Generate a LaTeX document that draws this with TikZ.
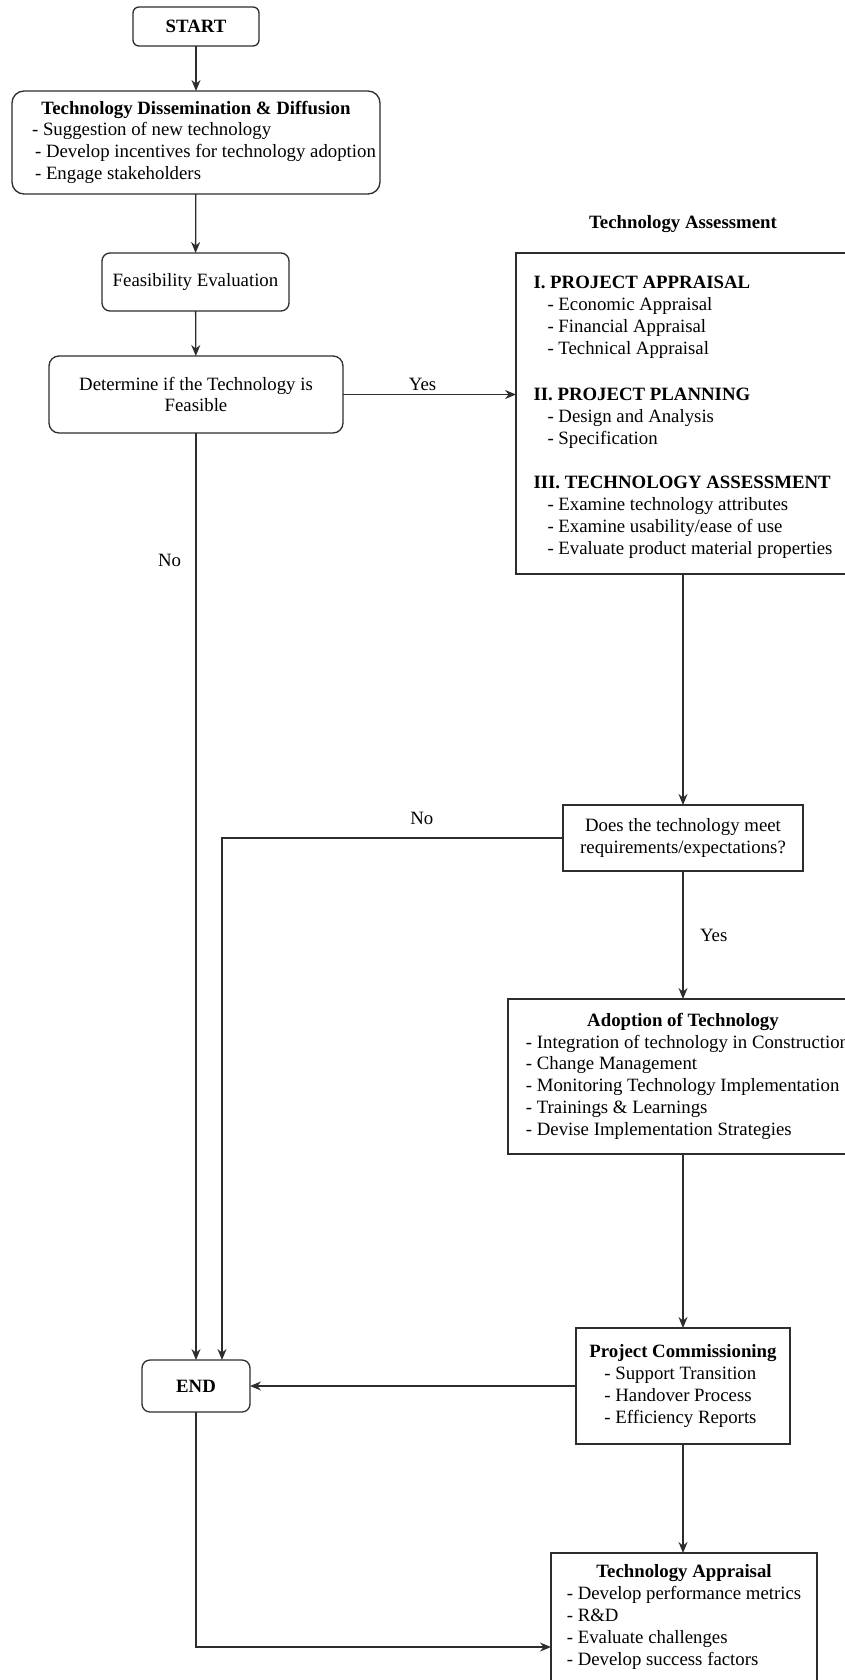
\documentclass[tikz,border=0pt]{standalone}
\usepackage{fontspec}
\setmainfont{Liberation Serif}
\usetikzlibrary{arrows.meta}
\definecolor{linec}{RGB}{45,45,45}
\begin{document}
\begin{tikzpicture}[x=1pt,y=-1pt,
  every node/.style={font=\fontsize{18.8}{21.9}\selectfont, inner sep=0pt, outer sep=0pt},
  rbox/.style={draw=linec, line width=1.3pt, rounded corners=9pt, align=center, fill=white},
  sbox/.style={draw=linec, line width=1.3pt, align=center, fill=white},
  conn/.style={draw=linec, line width=1.3pt, -{Stealth[length=11pt,width=9pt]}}]
\useasboundingbox[fill=white] (0,0) rectangle (844,1680);

% left column
\node[rbox, minimum width=126pt, minimum height=39pt, rounded corners=6pt] (start) at (196,26.5) {\textbf{START}};
\node[rbox, minimum width=368pt, minimum height=103pt, rounded corners=12pt] (dis) at (196,142.5) {%
\begin{tabular}{@{}l@{}}
\multicolumn{1}{@{}c@{}}{\textbf{Technology Dissemination \& Diffusion}}\\
\hspace*{16pt}- Suggestion of new technology\\
\hspace*{19pt}- Develop incentives for technology adoption\\
\hspace*{19pt}- Engage stakeholders
\end{tabular}};
\node[rbox, minimum width=187pt, minimum height=58pt, rounded corners=8pt] (feas) at (195.5,282) {Feasibility Evaluation};
\node[rbox, minimum width=294pt, minimum height=77pt, rounded corners=10pt] (det) at (196,394.5) {Determine if the Technology is\\Feasible};
\node[rbox, minimum width=108pt, minimum height=52pt, rounded corners=8pt] (endn) at (196,1386) {\textbf{END}};

% right column
\node (tatitle) at (683,224) {\textbf{Technology Assessment}};
\node[sbox, minimum width=334pt, minimum height=321pt] (ta) at (683,413.5) {};
\node (tatext) at (683,417) {%
\begin{tabular}{@{}l@{}}
\textbf{I. PROJECT APPRAISAL}\\
\hspace*{14pt}- Economic Appraisal\\
\hspace*{14pt}- Financial Appraisal\\
\hspace*{14pt}- Technical Appraisal\\[3pt]
\\
\textbf{II. PROJECT PLANNING}\\
\hspace*{14pt}- Design and Analysis\\
\hspace*{14pt}- Specification\\
\\
\textbf{III. TECHNOLOGY ASSESSMENT}\\
\hspace*{14pt}- Examine technology attributes\\
\hspace*{14pt}- Examine usability/ease of use\\
\hspace*{14pt}- Evaluate product material properties
\end{tabular}};
\node[sbox, minimum width=240pt, minimum height=66pt] (does) at (683,838) {Does the technology meet\\requirements/expectations?};
\node[sbox, minimum width=350pt, minimum height=155pt] (adopt) at (683,1076.5) {%
\begin{tabular}{@{}l@{}}
\multicolumn{1}{@{}c@{}}{\textbf{Adoption of Technology}}\\
\hspace*{9pt}- Integration of technology in Construction\\
\hspace*{9pt}- Change Management\\
\hspace*{9pt}- Monitoring Technology Implementation\\
\hspace*{9pt}- Trainings \& Learnings\\
\hspace*{9pt}- Devise Implementation Strategies
\end{tabular}};
\node[sbox, minimum width=214pt, minimum height=116pt] (pc) at (683,1386) {%
\begin{tabular}{@{}l@{}}
\textbf{Project Commissioning}\\
\hspace*{15pt}- Support Transition\\
\hspace*{15pt}- Handover Process\\
\hspace*{15pt}- Efficiency Reports
\end{tabular}};
\node[sbox, minimum width=266pt, minimum height=128pt] (tapp) at (684,1617) {%
\begin{tabular}{@{}l@{}}
\multicolumn{1}{@{}c@{}}{\textbf{Technology Appraisal}}\\
- Develop performance metrics\\
- R\&D\\
- Evaluate challenges\\
- Develop success factors
\end{tabular}};

% connectors
\draw[conn] (start) -- (dis);
\draw[conn] (dis) -- (feas);
\draw[conn] (feas) -- (det);
\draw[conn] (det.east) -- (det.east -| ta.west) node[pos=0.46, above=4pt] (yes1) {Yes};
\draw[conn] (det) -- (endn) node[pos=0.138, left=15pt] (no1) {No};
\draw[conn] (ta) -- (does);
\draw[conn] (does.west) -| ([xshift=26pt]endn.north) node[pos=0.207, above=13pt] (no2) {No};
\draw[conn] (does) -- (adopt) node[midway, right=17pt] (yes2) {Yes};
\draw[conn] (adopt) -- (pc);
\draw[conn] (pc) -- (endn);
\draw[conn] (pc.south) -- (pc.south |- tapp.north);
\draw[conn] (endn.south) |- ([yshift=-30pt]tapp.west);
\end{tikzpicture}
\end{document}
